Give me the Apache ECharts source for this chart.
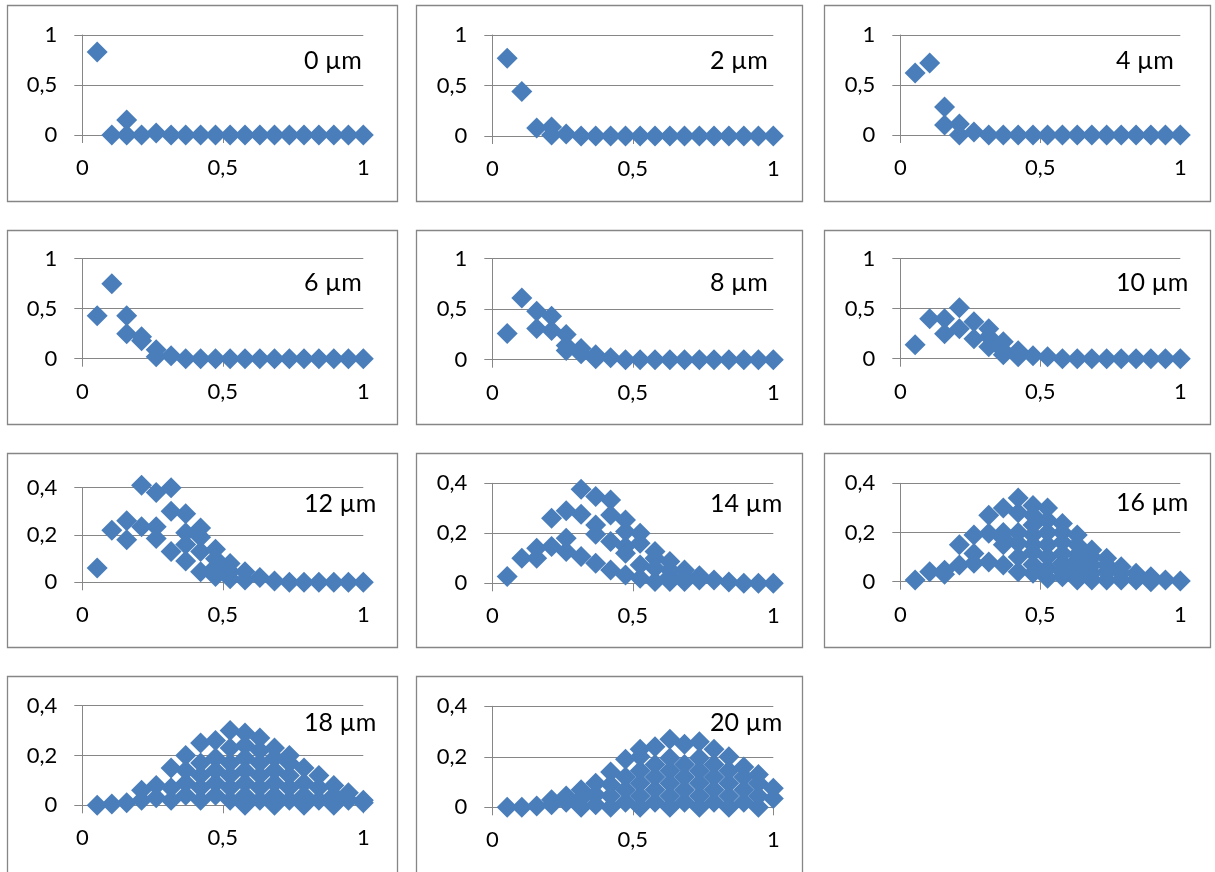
<!DOCTYPE html>
<html>
<head>
<meta charset="utf-8">
<script src="https://cdn.jsdelivr.net/npm/echarts@6/dist/echarts.min.js"></script>
<style>
html,body{margin:0;padding:0;background:#fff;}
#chart{width:1215px;height:872px;}
</style>
</head>
<body>
<div id="chart"></div>
<script>
// ---------- DATA ----------
// x positions shared by all panels (normalised coordinate)
const xValues = [0.053,0.105,0.158,0.211,0.263,0.316,0.368,0.421,0.474,0.526,0.579,0.632,0.684,0.737,0.789,0.842,0.895,0.947,1.0];

const panelLabels = ['0 µm','2 µm','4 µm','6 µm','8 µm','10 µm','12 µm','14 µm','16 µm','18 µm','20 µm'];

// y values at each x position (one list per x position)
const um0 = [[0.83],[0],[0.15,0],[0],[0.02],[0],[0],[0],[0],[0],[0],[0],[0],[0],[0],[0],[0],[0],[0]];
const um2 = [[0.77],[0.44],[0.08],[0.09,0.01],[0.02],[0],[0],[0],[0],[0],[0],[0],[0],[0],[0],[0],[0],[0],[0]];
const um4 = [[0.62],[0.72],[0.28,0.1],[0.11,0],[0.03],[0],[0],[0],[0],[0],[0],[0],[0],[0],[0],[0],[0],[0],[0]];
const um6 = [[0.43],[0.75],[0.43,0.25],[0.22,0.18],[0.09,0.02],[0.03],[0],[0],[0],[0],[0],[0],[0],[0],[0],[0],[0],[0],[0]];
const um8 = [[0.26],[0.61],[0.48,0.31],[0.43,0.29],[0.25,0.14,0.09],[0.11,0.06],[0.05,0.01],[0.02],[0],[0],[0],[0],[0],[0],[0],[0],[0],[0],[0]];
const um10 = [[0.14],[0.4],[0.4,0.25],[0.51,0.3],[0.37,0.2],[0.3,0.22,0.12],[0.17,0.08,0.04],[0.08,0.02],[0.03],[0.02],[0],[0],[0],[0],[0],[0],[0],[0],[0]];
const um12 = [[0.06],[0.22],[0.26,0.18],[0.41,0.235],[0.38,0.235,0.185],[0.4,0.3,0.13],[0.29,0.21,0.16,0.09],[0.23,0.19,0.13,0.045],[0.14,0.1,0.065,0.025],[0.08,0.045,0.015],[0.045,0.01],[0.02],[0.005],[0],[0],[0],[0],[0],[0]];
const um14 = [[0.027],[0.1],[0.14,0.1],[0.26,0.147],[0.29,0.18,0.127],[0.376,0.276,0.107],[0.347,0.233,0.196,0.08],[0.333,0.273,0.167,0.053],[0.253,0.207,0.147,0.12,0.033],[0.2,0.16,0.073,0.02],[0.127,0.1,0.06,0.007],[0.087,0.053,0.027,0.007],[0.053,0.027,0.007],[0.03,0.013],[0.013],[0.005],[0],[0],[0]];
const um16 = [[0.007],[0.04],[0.047,0.03],[0.15,0.068],[0.19,0.115,0.075],[0.27,0.197,0.08],[0.3,0.2,0.176,0.15,0.068],[0.34,0.28,0.2,0.156,0.1,0.04],[0.31,0.27,0.23,0.19,0.15,0.12,0.07,0.034],[0.3,0.25,0.2,0.15,0.1,0.054,0.014],[0.237,0.2,0.16,0.115,0.075,0.04,0.02],[0.19,0.15,0.11,0.088,0.054,0.02,0.007],[0.129,0.1,0.068,0.034,0.007],[0.095,0.068,0.04,0.007],[0.061,0.034,0.007],[0.034,0.007],[0.02,0],[0.007],[0.003]];
const um18 = [[0],[0.005],[0.01],[0.02,0.06],[0.03,0.08],[0.02,0.07,0.15],[0.04,0.09,0.14,0.2],[0.02,0.07,0.12,0.17,0.25],[0.04,0.09,0.14,0.19,0.26],[0.02,0.07,0.12,0.17,0.23,0.3],[0,0.04,0.09,0.14,0.19,0.24,0.29],[0.02,0.07,0.12,0.17,0.22,0.27],[0,0.04,0.09,0.14,0.19,0.23],[0.02,0.07,0.12,0.17,0.2],[0,0.04,0.09,0.15],[0.02,0.07,0.12],[0,0.04,0.08],[0.02,0.05],[0.01,0.02]];
const um20 = [[0],[0],[0.005],[0.01,0.03],[0.02,0.045],[0,0.035,0.07],[0.01,0.05,0.095],[0,0.045,0.09,0.14],[0.02,0.07,0.12,0.19],[0,0.045,0.095,0.145,0.2,0.23],[0.02,0.07,0.12,0.17,0.24],[0,0.045,0.095,0.145,0.195,0.27],[0.02,0.07,0.12,0.17,0.25],[0,0.045,0.095,0.145,0.195,0.26],[0.02,0.07,0.12,0.17,0.23],[0,0.045,0.095,0.145,0.2],[0.02,0.07,0.12,0.16],[0,0.045,0.095,0.13],[0.035,0.075]];

const panelData = [um0,um2,um4,um6,um8,um10,um12,um14,um16,um18,um20];
const yMaxes = [1,1,1,1,1,1,0.4,0.4,0.4,0.4,0.4];
const yIntervals = [0.5,0.5,0.5,0.5,0.5,0.5,0.2,0.2,0.2,0.2,0.2];

// ---------- LAYOUT (pixels) ----------
// plot areas: [left, top, right, bottom]
const plotBoxes = [
  [82.3,35,363.3,135],[492.3,35,773.3,136],[900.3,35,1180.3,135],
  [82.3,258.7,363.3,358.7],[492.3,258.7,773.3,359.7],[900.3,258.7,1180.3,358.7],
  [82.3,487.7,363.3,582.3],[492.3,483.3,773.3,583.3],[900.3,483.3,1180.3,581.7],
  [82.3,705.7,363.3,805.3],[492.3,706.3,773.3,807.3]
];
const frameCols = [[7,397],[416,802],[824,1210]];
const frameRows = [[5,201],[230,424],[453,647],[676,890]];
const labelPos = [
  [304,63],[710,63],[1116,63],
  [304,285],[710,285],[1116,285],
  [304,506],[710,506],[1116,505],
  [304,725],[710,725]
];

const GRAY = '#868686';
const BLUE = '#4A7EBB';
const FONT = 'Lato';
const fmt = v => String(v).replace('.', ',');

const grids = [], xAxes = [], yAxes = [], series = [], graphics = [];

plotBoxes.forEach((b, i) => {
  grids.push({left: b[0], top: b[1], width: b[2]-b[0], height: b[3]-b[1], containLabel: false});
  xAxes.push({
    type: 'value', gridIndex: i, min: 0, max: 1, interval: 0.5,
    axisLine: {show: true, onZero: false, lineStyle: {color: GRAY, width: 1}},
    axisTick: {show: true, inside: false, length: 8, lineStyle: {color: GRAY}},
    axisLabel: {formatter: fmt, margin: 22, fontSize: 22, fontFamily: FONT, color: '#000'},
    splitLine: {show: false}
  });
  yAxes.push({
    type: 'value', gridIndex: i, min: 0, max: yMaxes[i], interval: yIntervals[i],
    axisLine: {show: true, onZero: false, lineStyle: {color: GRAY, width: 1}},
    axisTick: {show: true, inside: false, length: 8, lineStyle: {color: GRAY}},
    axisLabel: {formatter: fmt, margin: 25, fontSize: 22, fontFamily: FONT, color: '#000'},
    splitLine: {show: true, lineStyle: {color: GRAY, width: 1}}
  });
  const pts = [];
  panelData[i].forEach((ys, k) => ys.forEach(y => pts.push([xValues[k], y])));
  series.push({
    type: 'scatter', xAxisIndex: i, yAxisIndex: i, data: pts,
    symbol: 'diamond', symbolSize: 21, clip: false, silent: true,
    itemStyle: {color: BLUE, opacity: 1}
  });
  graphics.push({
    type: 'text', left: labelPos[i][0], top: labelPos[i][1] - 15,
    style: {text: panelLabels[i], fontSize: 25, fontFamily: FONT, fill: '#000'}
  });
});

frameRows.forEach((r, ri) => frameCols.forEach((c, ci) => {
  if (ri === 3 && ci === 2) return;
  graphics.push({
    type: 'rect', z: -1,
    shape: {x: c[0] + 0.5, y: r[0] + 0.5, width: c[1]-c[0], height: r[1]-r[0]},
    style: {fill: 'none', stroke: GRAY, lineWidth: 1.3}
  });
}));

const chart = echarts.init(document.getElementById('chart'), null, {renderer: 'canvas'});
chart.setOption({
  backgroundColor: '#fff',
  animation: false,
  grid: grids, xAxis: xAxes, yAxis: yAxes, series: series,
  graphic: graphics
});
</script>
</body>
</html>
